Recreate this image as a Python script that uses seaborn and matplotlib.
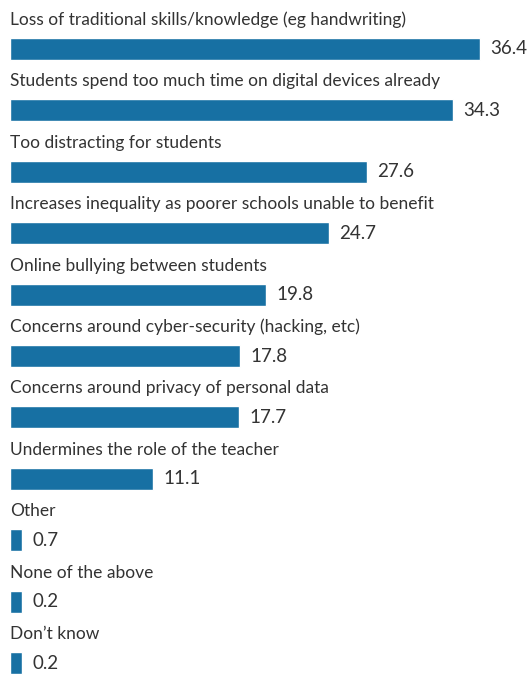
import numpy as np
import pandas as pd
import matplotlib
matplotlib.use("Agg")
import matplotlib.pyplot as plt
import seaborn as sns

categories = [
    "Loss of traditional skills/knowledge (eg handwriting)",
    "Students spend too much time on digital devices already",
    "Too distracting for students",
    "Increases inequality as poorer schools unable to benefit",
    "Online bullying between students",
    "Concerns around cyber-security (hacking, etc)",
    "Concerns around privacy of personal data",
    "Undermines the role of the teacher",
    "Other",
    "None of the above",
    "Don\u2019t know",
]
values = [36.4, 34.3, 27.6, 24.7, 19.8, 17.8, 17.7, 11.1, 0.7, 0.2, 0.2]
value_labels = ["36.4", "34.3", "27.6", "24.7", "19.8", "17.8", "17.7", "11.1", "0.7", "0.2", "0.2"]

BAR_COLOR = "#1770a3"
TEXT_COLOR = "#333333"

sns.set_style("white")
plt.rcParams["font.family"] = ["Lato", "DejaVu Sans"]

# tiny values still get a visible stub, like the original
shown = np.maximum(np.array(values), 0.925)
df = pd.DataFrame({"category": categories, "value": shown})

fig = plt.figure(figsize=(5.32, 6.75), dpi=100)
ax = fig.add_axes([0, 0, 1, 1])

sns.barplot(data=df, x="value", y="category", order=categories, orient="h",
            color=BAR_COLOR, width=0.36, saturation=1, ax=ax)

for i, (cat, v, lab) in enumerate(zip(categories, shown, value_labels)):
    ax.text(0, i - 0.39, cat, ha="left", va="baseline", fontsize=12.5, color=TEXT_COLOR)
    ax.text(v + 0.8, i, lab, ha="left", va="center", fontsize=13.5, color=TEXT_COLOR)

ax.set_xlim(-0.771, 40.4)
ax.set_ylim(10.195, -0.798)
ax.axis("off")

fig.savefig("out.png", dpi=100)
plt.close(fig)
